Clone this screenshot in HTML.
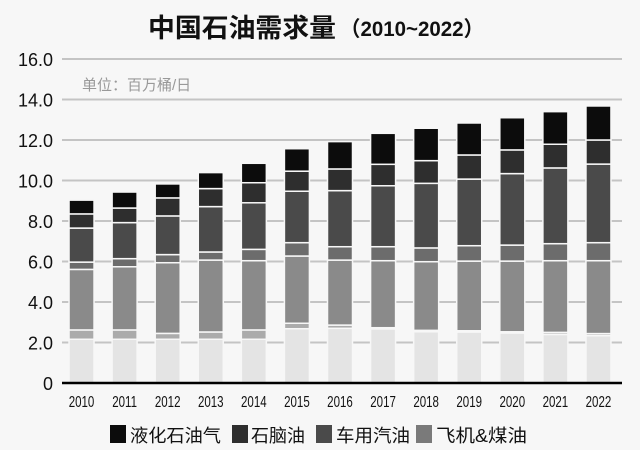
<!DOCTYPE html>
<html><head><meta charset="utf-8">
<style>
html,body{margin:0;padding:0;background:#f7f7f7;}
svg{display:block;font-family:"Liberation Sans","Noto Sans CJK SC",sans-serif;}
</style></head>
<body>
<svg id="chart" width="640" height="450" viewBox="0 0 640 450">
<rect x="0" y="0" width="640" height="450" fill="#f7f7f7"/>
<text x="148" y="37" font-size="26" font-weight="bold" fill="#111" textLength="188" lengthAdjust="spacingAndGlyphs">中国石油需求量</text>
<text x="340" y="36" font-size="21" font-weight="bold" fill="#111" textLength="144" lengthAdjust="spacingAndGlyphs">（2010~2022）</text>
<text x="82" y="90" font-size="15" fill="#999">单位：百万桶/日</text>
<g id="grid"></g>
<g id="bars"></g>
<g id="axes"></g>
<g id="legend"></g>
</svg>
<script>
const categories = ["2010","2011","2012","2013","2014","2015","2016","2017","2018","2019","2020","2021","2022"];
const seriesBase   = [2.16,2.16,2.16,2.16,2.16,2.68,2.70,2.67,2.53,2.52,2.47,2.40,2.34];
const seriesLight  = [0.46,0.46,0.29,0.36,0.46,0.27,0.16,0.06,0.07,0.06,0.06,0.10,0.10];
const seriesJet    = [2.99,3.12,3.49,3.55,3.42,3.32,3.21,3.31,3.39,3.44,3.49,3.54,3.60];
const seriesMid    = [0.36,0.40,0.40,0.40,0.56,0.66,0.66,0.69,0.68,0.76,0.79,0.84,0.89];
const seriesGas    = [1.68,1.78,1.91,2.24,2.30,2.54,2.77,3.01,3.19,3.29,3.53,3.74,3.88];
const seriesNaph   = [0.70,0.72,0.89,0.89,0.99,0.99,1.07,1.06,1.12,1.19,1.17,1.17,1.19];
const seriesLPG    = [0.68,0.79,0.69,0.79,0.96,1.11,1.35,1.53,1.60,1.58,1.59,1.61,1.68];
const yTicks = ["0","2.0","4.0","6.0","8.0","10.0","12.0","14.0","16.0"];
const legendLabels = ["液化石油气","石脑油","车用汽油","飞机&煤油"];

const NS="http://www.w3.org/2000/svg";
const x0=62,x1=622,yBase=383,yTop=59,yMax=16;
const y=v=>yBase-(v/yMax)*(yBase-yTop);
const step=(x1-x0)/categories.length;
const xc=i=>x0+step*(i+0.5)-2;
const bw=25;
function mk(tag,attrs,parent){const e=document.createElementNS(NS,tag);for(const k in attrs)e.setAttribute(k,attrs[k]);parent.appendChild(e);return e;}
const grid=document.getElementById('grid'),bars=document.getElementById('bars'),axes=document.getElementById('axes'),legend=document.getElementById('legend');
yTicks.forEach((t,i)=>{
  const v=parseFloat(t);
  if(v>0){const l=mk('line',{x1:x0,x2:x1,y1:y(v),y2:y(v),stroke:'#c4c4c4','stroke-width':2},grid);
  
  }
  const tx=mk('text',{x:53,y:y(v)+7,'text-anchor':'end','font-size':18,fill:'#111'},axes);
  tx.textContent=t;
  
  
});
const series=[seriesBase,seriesLight,seriesJet,seriesMid,seriesGas,seriesNaph,seriesLPG];
const colors=["#e4e4e4","#ababab","#8a8a8a","#6c6c6c","#4a4a4a","#2e2e2e","#0c0c0c"];
const names=["base","light","jet-kerosene","mid","gasoline","naphtha","lpg"];
categories.forEach((c,i)=>{
  let cum=0;
  series.forEach((s,k)=>{
    const v=s[i];
    const r=mk('rect',{x:xc(i)-bw/2,y:y(cum+v),width:bw,height:y(cum)-y(cum+v),fill:colors[k],stroke:'#f7f7f7','stroke-width':1.5},bars);
    
    
    cum+=v;
  });
  const t=mk('text',{x:xc(i),y:407,'text-anchor':'middle','font-size':16,fill:'#111',transform:`translate(${xc(i)},0) scale(0.72,1) translate(${-xc(i)},0)`},axes);
  t.textContent=c;
  
  
});
const ax=mk('line',{x1:x0,x2:x1,y1:yBase,y2:yBase,stroke:'#000','stroke-width':2.5},axes);


const lx=[110,232,316,416],tx0=[130,251,336,436],tw=[91,54,74,91],lc=["#0c0c0c","#2e2e2e","#4a4a4a","#7a7a7a"];
legendLabels.forEach((l,i)=>{
  const g=mk('g',{},legend);
  
  
  mk('rect',{x:lx[i],y:425,width:16,height:18,fill:lc[i]},g);
  const t=mk('text',{x:tx0[i],y:442,'font-size':18,fill:'#111',textLength:tw[i],lengthAdjust:'spacingAndGlyphs'},g);
  t.textContent=l;
});
</script>
</body></html>
